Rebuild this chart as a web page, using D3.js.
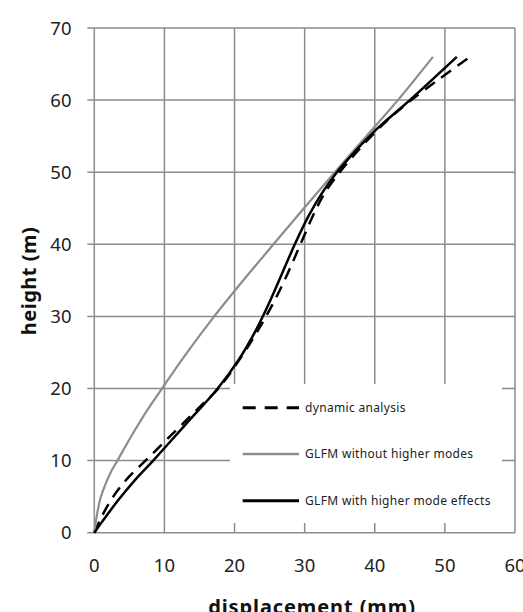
<!DOCTYPE html>
<html>
<head>
<meta charset="utf-8">
<script src="https://cdn.jsdelivr.net/npm/d3@7"></script>
<style>
html,body{margin:0;padding:0;background:#fff;}
svg{display:block;}
text{font-family:"Noto Sans","DejaVu Sans",sans-serif;}
</style>
</head>
<body>
<svg id="chart" width="523" height="612"></svg>
<script>
// ---- data ----
const xTicks = [0, 10, 20, 30, 40, 50, 60];
const yTicks = [0, 10, 20, 30, 40, 50, 60, 70];
const seriesNames = ["dynamic analysis", "GLFM without higher modes", "GLFM with higher mode effects"];

const dynamicDisp   = [0, 1.2, 2.7, 4.7, 7.3, 9.9, 12.5, 15.1, 17.7, 20.7, 23.3, 25.6, 27.6, 29.4, 31.2, 32.8, 35.0, 37.6, 40.5, 42.7, 45.2, 49.3, 53.6];
const dynamicHeight = [0, 2.5, 5.0, 7.5, 10.0, 12.5, 15.0, 17.5, 20.0, 24.0, 28.0, 32.0, 36.0, 40.0, 44.0, 47.0, 50.0, 53.0, 56.0, 58.0, 60.0, 63.0, 66.0];

const noHigherDisp   = [0, 0.3, 0.8, 1.5, 2.4, 3.3, 4.45, 5.65, 6.9, 8.25, 9.65, 13.25, 17.1, 21.25, 25.55, 29.9, 34.3, 38.8, 43.3, 48.3];
const noHigherHeight = [0, 2.0, 4.5, 6.5, 8.5, 10.0, 12.0, 14.0, 16.0, 18.0, 20.0, 25.0, 30.0, 35.0, 40.0, 45.0, 50.0, 55.0, 60.0, 66.0];

const higherDisp   = [0, 1.1, 3.4, 5.8, 8.4, 13.0, 17.6, 20.6, 23.0, 25.0, 26.8, 28.6, 30.6, 32.4, 34.6, 37.3, 40.3, 45.0, 51.7];
const higherHeight = [0, 1.5, 4.5, 7.3, 10.0, 15.0, 20.0, 24.0, 28.0, 32.0, 36.0, 40.0, 44.0, 47.0, 50.0, 53.0, 56.0, 60.0, 66.0];

// ---- layout ----
const svg = d3.select("#chart");
const mLeft = 94.3, mRight = 515, mTop = 28, mBottom = 532.7;
const x = d3.scaleLinear().domain([0, 60]).range([mLeft, mRight]);
const y = d3.scaleLinear().domain([0, 70]).range([mBottom, mTop]);
const gridColor = "#8c8c8c";

// gridlines
const g = svg.append("g");
g.selectAll("line.v").data(xTicks).enter().append("line")
  .attr("x1", d => x(d)).attr("x2", d => x(d))
  .attr("y1", y(0)).attr("y2", y(70))
  .attr("stroke", gridColor).attr("stroke-width", 1.5);
g.selectAll("line.h").data(yTicks).enter().append("line")
  .attr("x1", x(0) - 7).attr("x2", x(60))
  .attr("y1", d => y(d)).attr("y2", d => y(d))
  .attr("stroke", gridColor).attr("stroke-width", 1.5);

// tick labels
svg.append("g").selectAll("text").data(yTicks).enter().append("text")
  .attr("x", 71.5).attr("y", d => y(d)).attr("dy", "0.36em")
  .attr("text-anchor", "end").attr("font-size", 18.5).attr("fill", "#222")
  .text(d => d);
svg.append("g").selectAll("text").data(xTicks).enter().append("text")
  .attr("x", d => x(d)).attr("y", 571.5)
  .attr("text-anchor", "middle").attr("font-size", 18.5).attr("fill", "#222")
  .text(d => d);

// axis titles
svg.append("text").attr("x", 312).attr("y", 613.5)
  .attr("text-anchor", "middle").attr("font-size", 20).attr("letter-spacing", 0.9)
  .attr("font-weight", "bold").attr("fill", "#111")
  .text("displacement (mm)");
svg.append("text").attr("transform", "translate(36,281) rotate(-90)")
  .attr("text-anchor", "middle").attr("font-size", 20).attr("letter-spacing", 0.5)
  .attr("font-weight", "bold").attr("fill", "#111")
  .text("height (m)");

// series
const line = d3.line().x(d => x(d[0])).y(d => y(d[1])).curve(d3.curveCatmullRom.alpha(0.5));
const series = [
  {name: seriesNames[0], pts: d3.zip(dynamicDisp, dynamicHeight), color: "#000", width: 2.5, dash: "12,8"},
  {name: seriesNames[1], pts: d3.zip(noHigherDisp, noHigherHeight), color: "#8c8c8c", width: 2.2, dash: null},
  {name: seriesNames[2], pts: d3.zip(higherDisp, higherHeight), color: "#000", width: 2.5, dash: null}
];
svg.append("g").selectAll("path").data(series).enter().append("path")
  .attr("d", d => line(d.pts))
  .attr("fill", "none")
  .attr("stroke", d => d.color)
  .attr("stroke-width", d => d.width)
  .attr("stroke-dasharray", d => d.dash);

// legend
const lg = svg.append("g");
lg.append("rect").attr("x", 230).attr("y", 384).attr("width", 272).attr("height", 139).attr("fill", "#fff");
const rowsY = [407.7, 454, 500.7];
series.forEach((s, i) => {
  lg.append("line").attr("x1", 242.7).attr("x2", 299).attr("y1", rowsY[i]).attr("y2", rowsY[i])
    .attr("stroke", s.color).attr("stroke-width", s.width + 0.5).attr("stroke-dasharray", s.dash ? "13,9" : null);
  lg.append("text").attr("x", 305).attr("y", rowsY[i]).attr("dy", "0.35em")
    .attr("font-size", 12).attr("letter-spacing", 0.33).attr("fill", "#222").text(s.name);
});
</script>
</body>
</html>
